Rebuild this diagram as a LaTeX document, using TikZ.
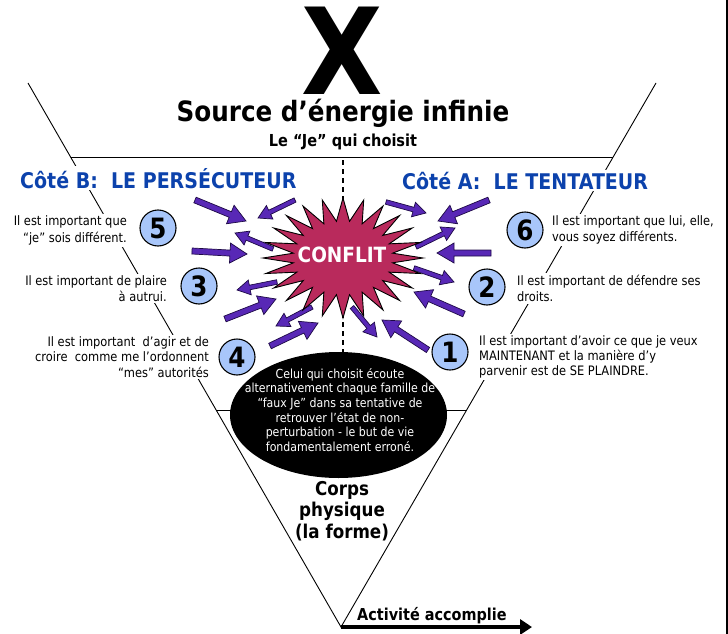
\documentclass[tikz,border=0pt]{standalone}
\usepackage{fontspec}
\setmainfont[FakeStretch=0.88]{DejaVu Sans}
\usetikzlibrary{calc,shapes.geometric,arrows.meta}
\definecolor{arrowfill}{RGB}{88,40,182}
\definecolor{arrowline}{RGB}{30,10,70}
\definecolor{starfill}{RGB}{185,42,92}
\definecolor{circfill}{RGB}{168,198,250}
\definecolor{cblue}{RGB}{12,66,172}
\newcommand\fs[2]{\fontsize{#1}{#2}\selectfont}
% block arrow: tail, tip, shaft half width, head half width, head length
\newcommand\parrow[5]{%
  \coordinate (pa) at #1; \coordinate (pb) at #2;
  \coordinate (pp) at ($(pb)!#5pt!(pa)$);
  \filldraw[fill=arrowfill, draw=arrowline, line width=0.7pt, line join=miter]
    ($(pa)!#3pt!90:(pb)$) -- ($(pp)!#3pt!90:(pb)$) -- ($(pp)!#4pt!90:(pb)$) -- (pb)
    -- ($(pp)!#4pt!-90:(pb)$) -- ($(pp)!#3pt!-90:(pb)$) -- ($(pa)!#3pt!-90:(pb)$) -- cycle;}
\tikzset{
  txt/.style={font=\fs{13}{16.5}, inner sep=1.5pt, fill=white},
  num/.style={circle, draw=black, line width=1.1pt, fill=circfill, minimum size=36pt,
    inner sep=0pt, font=\fs{28}{28}\bfseries},
  cote/.style={font=\fs{21.6}{22}\bfseries, text=cblue, inner sep=1.5pt, fill=white, anchor=base west},
  frame/.style={line width=0.9pt, black}
}
\begin{document}
\begin{tikzpicture}[x=1pt,y=-1pt]
\useasboundingbox (0,0) rectangle (728,634);
% V shape
\coordinate (TL) at (28,83);
\coordinate (TR) at (656,83);
\coordinate (AP) at (341,627);
\coordinate (H1L) at (70.6,157);
\coordinate (H1R) at (613.2,157);
\coordinate (H2L) at (216.2,410);
\coordinate (H2R) at (466.7,410);
\draw[frame] (TL) -- (AP) -- (TR);
\draw[frame] (H1L) -- (H1R);
\draw[frame] (H2L) -- (H2R);
% dashed centre line
\coordinate (D1) at (343,160);
\coordinate (D2) at (343,352);
\draw[line width=2.2pt, dash pattern=on 5pt off 4pt] (D1) -- (D2);
% right border
\draw[line width=2pt] (727,0) -- (727,634);
% titles
\node[font=\fs{120}{120}\bfseries, anchor=base, inner sep=0pt] (X) at (342,94) {X};
\node[font=\fs{28}{28}\bfseries, anchor=base, inner sep=0pt] (src) at (343,121) {Source d’énergie infinie};
\node[font=\fs{16.5}{17}\bfseries, anchor=base, inner sep=0pt] (je) at (343,146) {Le “Je” qui choisit};
\node[cote] (coteB) at (18.5,188) {Côté B:~~LE PERSÉCUTEUR};
\node[cote] (coteA) at (400.5,189) {Côté A:~~LE TENTATEUR};
% arrows
\parrow{(195,200)}{(246,221)}{3}{10}{17}
\parrow{(295,200)}{(258,218)}{2.3}{7.5}{13}
\parrow{(273,249)}{(235,233)}{2.3}{7.5}{13}
\parrow{(192,251)}{(247,254)}{3}{10}{17}
\parrow{(277,282)}{(237,290)}{2.3}{7.5}{13}
\parrow{(225,319)}{(276,299)}{3}{10}{17}
\parrow{(312,307)}{(276,326)}{2.3}{7.5}{13}
\parrow{(270,346)}{(318,323)}{3}{10}{17}
\parrow{(352,307)}{(377,337)}{2.3}{7.5}{13}
\parrow{(428,350)}{(382,320)}{3}{10}{17}
\parrow{(464,314)}{(414,292)}{3}{10}{17}
\parrow{(414,268)}{(454,282)}{2.3}{7.5}{13}
\parrow{(491,253)}{(437,253)}{3}{10}{17}
\parrow{(416,247)}{(455,228)}{2.3}{7.5}{13}
\parrow{(489,200)}{(438,221)}{3}{10}{17}
\parrow{(386,202)}{(426,213)}{2.3}{7.5}{13}
% starburst
\begin{scope}[shift={(343,258)}]
\filldraw[fill=starfill, draw=black, line width=0.9pt, line join=miter]
  (90:80 and 60) \foreach \i in {1,...,47} {
    -- ({90+\i*7.5}:{ifthenelse(isodd(\i),50,80)} and {ifthenelse(isodd(\i),37,60)}) } -- cycle;
\end{scope}
\node[font=\fs{21}{21}\bfseries, text=white, inner sep=0pt] (conflit) at (342,255) {CONFLIT};
% ellipse
\node[ellipse, fill=black, minimum width=217pt, minimum height=126pt, inner sep=0pt] (ell) at (338.5,415) {};
\node[font=\fs{12.5}{14.7}, text=white, align=center, inner sep=0pt] (elltxt) at (340,410)
  {Celui qui choisit écoute\\alternativement chaque famille de\\“faux Je” dans sa tentative de\\retrouver l’état de non-\\perturbation - le but de vie\\fondamentalement erroné.};
% number circles
\node[num] (n5) at (158,228) {5};
\node[num] (n3) at (199,286) {3};
\node[num] (n4) at (237,357) {4};
\node[num] (n6) at (525,230) {6};
\node[num] (n2) at (487,287) {2};
\node[num] (n1) at (450,352) {1};
% side texts
\node[txt, align=right, anchor=east] (t5) at (128.5,230.5) {Il est important que\\“je” sois différent.};
\node[txt, align=right, anchor=east] (t3) at (168.5,288.5) {Il est important de plaire\\à autrui.};
\node[txt, align=right, anchor=east, font=\fs{13}{15.2}] (t4) at (210.5,357) {Il est important~~d’agir et de\\croire~~comme me l’ordonnent\\“mes” autorités};
\node[txt, align=left, anchor=west] (t6) at (550.5,230) {Il est important que lui, elle,\\vous soyez différents.};
\node[txt, align=left, anchor=west] (t2) at (515.5,288.5) {Il est important de défendre ses\\droits.};
\node[txt, align=left, anchor=west, font=\fs{13}{15.2}] (t1) at (477.5,357) {Il est important d’avoir ce que je veux\\MAINTENANT et la manière d’y\\parvenir est de SE PLAINDRE.};
% bottom
\node[font=\fs{19}{21.5}\bfseries, align=center, inner sep=0pt] (corps) at (342,511) {Corps\\physique\\(la forme)};
\coordinate (AE) at (532,627);
\draw[line width=4pt, -{Triangle[length=12pt,width=15pt]}] (AP) -- (AE);
\node[font=\fs{16.4}{16}\bfseries, anchor=base west, inner sep=0pt] (act) at (357,620) {Activité accomplie};
\end{tikzpicture}
\end{document}
